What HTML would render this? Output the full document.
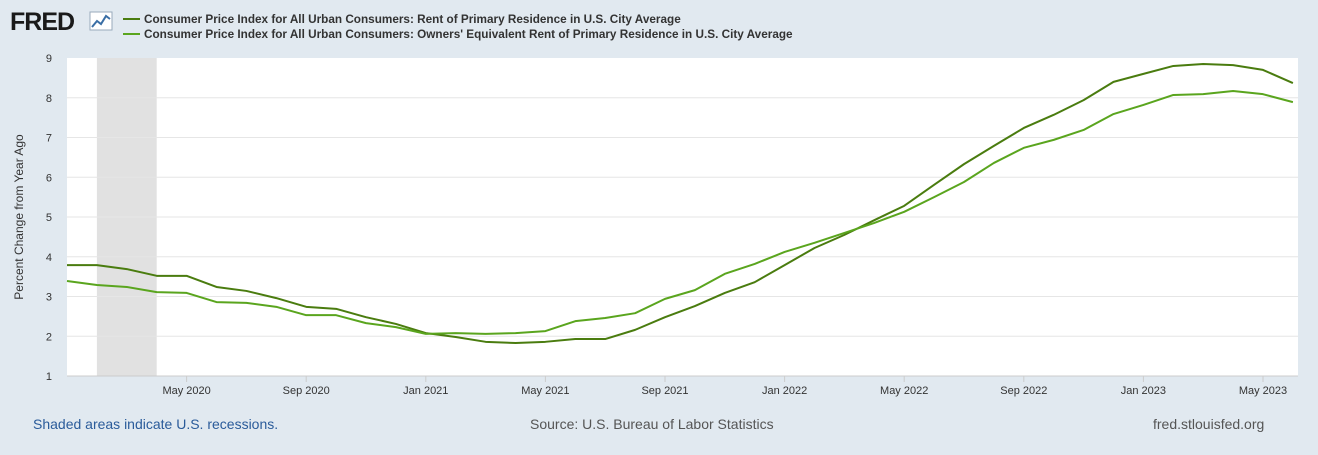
<!DOCTYPE html>
<html><head><meta charset="utf-8"><style>
body{margin:0;width:1318px;height:450px;background:#e1e9f0;font-family:"Liberation Sans",sans-serif;overflow:hidden}
</style></head><body>
<svg width="1318" height="450" xmlns="http://www.w3.org/2000/svg" id="chart">
<g>
<text x="10" y="30" font-size="25" font-weight="bold" fill="#1a1a1a" font-family="Liberation Sans, sans-serif" letter-spacing="-1">FRED</text>
<rect x="90" y="12" width="22" height="18" fill="#fff" stroke="#9ab" stroke-width="1"/>
<polyline points="92,27 97,21 101,24 106,16 110,19" fill="none" stroke="#3a6ea5" stroke-width="2"/>
</g>
<g>
<line x1="123" y1="19" x2="140" y2="19" stroke="#4a7c0f" stroke-width="2"/>
<text x="144" y="23" font-size="11.75" font-weight="bold" fill="#333">Consumer Price Index for All Urban Consumers: Rent of Primary Residence in U.S. City Average</text>
<line x1="123" y1="34" x2="140" y2="34" stroke="#5aa51e" stroke-width="2"/>
<text x="144" y="38" font-size="11.75" font-weight="bold" fill="#333">Consumer Price Index for All Urban Consumers: Owners' Equivalent Rent of Primary Residence in U.S. City Average</text>
</g>
<rect x="67" y="58" width="1231" height="318" fill="#fff"/>
<g id="grid"></g>
<g id="marks"></g>
<text transform="translate(23,217) rotate(-90)" text-anchor="middle" font-size="12" fill="#333">Percent Change from Year Ago</text>
<text x="33" y="429" font-size="14" fill="#2a5b9a">Shaded areas indicate U.S. recessions.</text>
<text x="530" y="429" font-size="14" fill="#555">Source: U.S. Bureau of Labor Statistics</text>
<text x="1153" y="429" font-size="14" fill="#555">fred.stlouisfed.org</text>
</svg>
<script>
const yTicks=[1,2,3,4,5,6,7,8,9];
const xTickLabels=["May 2020","Sep 2020","Jan 2021","May 2021","Sep 2021","Jan 2022","May 2022","Sep 2022","Jan 2023","May 2023"];
const xTickMonths=[4,8,12,16,20,24,28,32,36,40];
const recession=[1,3];
const rent=[3.79,3.79,3.69,3.52,3.52,3.24,3.14,2.96,2.74,2.69,2.48,2.31,2.08,1.98,1.86,1.83,1.86,1.93,1.93,2.16,2.48,2.76,3.09,3.36,3.79,4.22,4.55,4.92,5.28,5.81,6.33,6.79,7.24,7.57,7.94,8.40,8.60,8.80,8.85,8.82,8.70,8.37];
const oer=[3.39,3.29,3.24,3.11,3.09,2.86,2.84,2.74,2.53,2.53,2.33,2.23,2.06,2.08,2.06,2.08,2.13,2.38,2.46,2.58,2.94,3.16,3.57,3.82,4.12,4.35,4.60,4.85,5.13,5.50,5.88,6.36,6.74,6.94,7.19,7.59,7.82,8.07,8.09,8.17,8.09,7.89];
const NS="http://www.w3.org/2000/svg";
const x=m=>67+m*29.9, y=v=>376-(v-1)*39.75;
const grid=document.getElementById('grid'),marks=document.getElementById('marks');
function mk(tag,at,p){const e=document.createElementNS(NS,tag);for(const k in at)e.setAttribute(k,at[k]);p.appendChild(e);return e;}
const rr=mk('rect',{x:x(recession[0]),y:58,width:x(recession[1])-x(recession[0]),height:318,fill:'#e1e1e1'},grid);


yTicks.forEach(v=>{
 if(v>1&&v<9){const l=mk('line',{x1:67,x2:1298,y1:y(v),y2:y(v),stroke:'#e6e6e6'},grid);
 
 }
 const t=mk('text',{x:52,y:y(v)+4,'font-size':11,fill:'#333','text-anchor':'end'},grid);t.textContent=v;
 
 
});
mk('line',{x1:67,x2:1298,y1:376,y2:376,stroke:'#ccc'},grid);
xTickMonths.forEach((m,i)=>{
 mk('line',{x1:x(m),x2:x(m),y1:376,y2:382,stroke:'#ccc'},grid);
 const t=mk('text',{x:x(m),y:394,'font-size':11,fill:'#333','text-anchor':'middle'},grid);t.textContent=xTickLabels[i];
 
 
});
[[rent,'#4a7c0f','series-rent'],[oer,'#5aa51e','series-oer']].forEach(([d,c,n])=>{
 const p=mk('polyline',{points:d.map((v,i)=>x(i)+','+y(v)).join(' '),fill:'none',stroke:c,'stroke-width':2,'stroke-linejoin':'round'},marks);
 
 
});
</script>
</body></html>
